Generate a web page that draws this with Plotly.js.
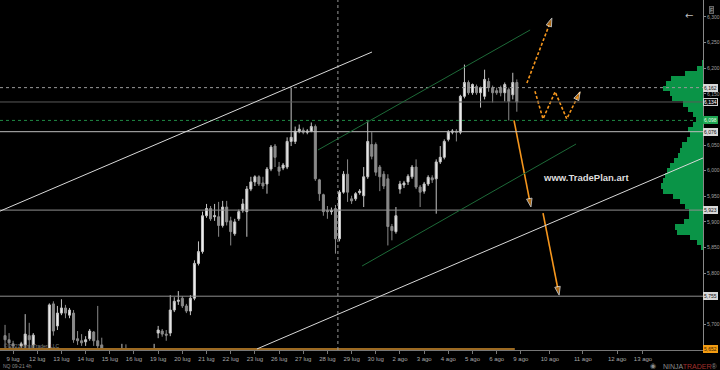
<!DOCTYPE html>
<html><head><meta charset="utf-8">
<script src="https://cdn.plot.ly/plotly-3.0.1.min.js"></script>
<style>html,body{margin:0;padding:0;background:#000;}#chart{width:720px;height:370px;}</style>
</head><body><div id="chart"></div>
<script>
// ---- 4h candles (price) ----
const openP = [
5678,5670,5662,5645,5658,5660,5678,5660,5643,5631,
5635,5639,5740,5697,5722,5732,5718,5722,5672,5668,
5666,5672,5685,5668,5660,5640,5630,5622,5636,5644,
5650,5642,5632,5625,5633,5638,5642,5645,5683,5687,
5681,5683,5728,5745,5751,5736,5726,5751,5819,5842,
5912,5926,5910,5910,5893,5929,5902,5877,5906,5922,
5920,5964,5978,5988,5976,5974,6003,6048,6007,6005,
6007,6057,6057,6077,6079,6075,6077,6086,5982,5953,
5922,5920,5926,5867,5958,5993,5945,5945,5957,5951,
5988,6051,6051,6007,5993,5984,5891,5881,5964,5972,
5978,5988,6007,5968,5960,5974,5986,5984,6017,6026,
6061,6075,6077,6075,6145,6172,6152,6164,6152,6145,
6174,6162,6156,6162,6152,6158,6148,6172];
const highP = [
5699,5683,5668,5650,5666,5720,5703,5683,5650,5646,
5654,5741,5745,5736,5749,5738,5732,5728,5687,5681,
5677,5691,5687,5736,5674,5646,5638,5640,5648,5662,
5661,5647,5640,5638,5644,5647,5649,5662,5697,5691,
5689,5757,5753,5765,5755,5740,5757,5825,5862,5920,
5935,5931,5935,5939,5941,5941,5910,5906,5924,5945,
5970,5988,5991,5991,5988,6007,6050,6052,6017,6015,
6065,6162,6086,6090,6084,6081,6094,6090,5984,5955,
5931,5928,5933,5962,5999,6022,5951,5958,5964,6007,
6096,6075,6055,6011,5999,5993,5896,5929,5980,5980,
5993,6011,6022,5972,5978,5991,5991,6022,6048,6061,
6079,6081,6081,6148,6207,6176,6170,6168,6164,6197,
6181,6166,6162,6166,6172,6162,6191,6178];
const lowP = [
5635,5639,5635,5625,5643,5654,5654,5650,5623,5619,
5623,5631,5678,5689,5718,5712,5712,5664,5660,5658,
5658,5668,5658,5650,5643,5620,5612,5615,5628,5638,
5636,5625,5618,5614,5624,5630,5634,5638,5673,5676,
5668,5677,5724,5738,5732,5722,5718,5747,5815,5838,
5908,5902,5902,5871,5889,5893,5854,5873,5902,5918,
5871,5960,5970,5970,5964,5955,5999,6007,5990,6001,
6003,6048,6052,6073,6071,6071,6075,5980,5941,5912,
5906,5914,5838,5862,5955,5939,5935,5941,5953,5929,
5984,6022,5990,5960,5964,5854,5864,5877,5955,5966,
5972,5984,5964,5929,5955,5970,5976,5916,6013,6022,
6057,6071,6057,6071,6141,6148,6148,6148,6123,6139,
6154,6133,6148,6145,6135,6098,6139,6115];
const closeP = [
5670,5664,5658,5635,5662,5681,5670,5679,5635,5639,
5643,5738,5687,5722,5732,5722,5728,5670,5668,5664,
5670,5687,5668,5658,5654,5630,5622,5636,5644,5650,
5642,5632,5625,5633,5638,5642,5645,5652,5689,5681,
5679,5728,5745,5747,5736,5726,5751,5819,5842,5912,
5926,5906,5912,5893,5929,5900,5881,5900,5920,5935,
5964,5978,5988,5974,5970,6003,6046,6026,5999,6011,
6057,6065,6077,6081,6075,6077,6086,5984,5955,5920,
5920,5922,5867,5958,5993,5958,5941,5955,5960,5988,
6057,6028,5997,5988,5970,5891,5883,5912,5974,5976,
5989,6007,5968,5958,5974,5987,5982,6017,6026,6057,
6075,6077,6075,6145,6172,6152,6168,6152,6162,6178,
6162,6152,6152,6152,6168,6135,6172,6134];
const candleIndex = openP.map((_, i) => i + 1);

// ---- date ticks ----
const sessionLabels = ['9 lug','12 lug','13 lug','14 lug','15 lug','16 lug','19 lug','20 lug','21 lug','22 lug','23 lug','26 lug','27 lug','28 lug','29 lug','30 lug','2 ago','3 ago','4 ago','5 ago','6 ago','9 ago'];
const futureLabels = ['10 ago','11 ago','12 ago','13 ago'];
const futureTickIndex = [136.2, 144.4, 152.9, 159.3];
const candlesPerSession = 6;

// ---- price axis ticks ----
const priceTicks = [5700, 5800, 5850, 5900, 5950, 6000, 6050, 6150, 6200, 6250, 6300];

// ---- horizontal levels ----
const levelValues = [6162, 6134, 6098, 6076, 5923, 5755];
const levelLabels = ['6,162', '6,134', '6,098', '6,076', '5,923', '5,755'];
const bottomLevel = 5652;
const bottomLabel = '5,652';

// ---- volume profile ----
const profilePrice = [6210,6200,6190,6180,6170,6160,6150,6140,6130,6120,6110,6100,6090,6080,6070,6060,6050,6040,6030,6020,6010,6000,5990,5980,5970,5960,5950,5940,5930,5920,5910,5900,5890,5880,5870,5860,5850];
const profileVolume = [1,6,18,32,37,40,33,31,20,15,10,7,10,15,13,16,21,23,25,29,33,36,38,40,42,40,30,23,18,14,14,19,28,26,13,6,2];

// ---- drawn lines (time index, price) ----
const upperTrendX = [-0.25, 92.06], upperTrendY = [5921, 6231.5];
const lowerTrendX = [63.5, 174.2], lowerTrendY = [5652, 6024.7];
const channelTopX = [78.66, 131.3], channelTopY = [6040.3, 6274.5];
const channelBotX = [89.6, 142.7], channelBotY = [5813.9, 6052];
const crossIndex = 83.6;
// ---- projection arrows ----
const down1X = [127.3, 131.5], down1Y = [6098, 5929];
const down2X = [134.5, 138.5], down2Y = [5917, 5757];
const upX = [130.5, 136.7], upY = [6171, 6298];
const zigX = [132.5, 134.5, 137.5, 140.4, 143.7], zigY = [6155, 6101, 6154, 6101, 6154];

const ORANGE = '#f5961d';
const FONT = 'Liberation Sans, Arial, sans-serif';

function arrowTrace(xs, ys, dash) {
  return {
    type: 'scatter', mode: 'lines+markers', x: xs, y: ys, hoverinfo: 'skip',
    line: {color: ORANGE, width: 1.6, dash: dash},
    marker: {symbol: 'arrow', angleref: 'previous', color: ORANGE,
      size: xs.map((_, i) => i === xs.length - 1 ? 9 : 0)},
    showlegend: false
  };
}

const traces = [
  {
    type: 'bar', orientation: 'h', y: profilePrice, x: profileVolume, width: 10,
    xaxis: 'x2', yaxis: 'y', marker: {color: '#0a9447', line: {width: 0}},
    hoverinfo: 'skip', showlegend: false
  },
  {
    type: 'candlestick', x: candleIndex, open: openP, high: highP, low: lowP, close: closeP,
    increasing: {line: {color: '#c4c4c4', width: 1}, fillcolor: '#eeeeee'},
    decreasing: {line: {color: '#8a8a8a', width: 1}, fillcolor: '#8a8a8a'},
    whiskerwidth: 0, hoverinfo: 'skip', showlegend: false
  },
  arrowTrace(down1X, down1Y, 'solid'),
  arrowTrace(down2X, down2Y, 'solid'),
  arrowTrace(upX, upY, '3px,2px'),
  arrowTrace(zigX, zigY, '3px,2px')
];

const levelStyles = [
  {color: '#9a9a9a', dash: 'dot'},
  {color: '#5a5a5a', dash: 'solid'},
  {color: '#1f8a45', dash: 'dot'},
  {color: '#bdbdbd', dash: 'solid'},
  {color: '#8f8f8f', dash: 'solid'},
  {color: '#8f8f8f', dash: 'solid'}
];
const boxStyles = [
  {bg: '#d8d8d8', fg: '#111', border: '#d8d8d8'},
  {bg: '#111111', fg: '#ffffff', border: '#cfcfcf'},
  {bg: '#1ea552', fg: '#e9ffe9', border: '#1ea552'},
  {bg: '#d8d8d8', fg: '#111', border: '#d8d8d8'},
  {bg: '#d8d8d8', fg: '#111', border: '#d8d8d8'},
  {bg: '#d8d8d8', fg: '#111', border: '#d8d8d8'}
];

const shapes = [];
levelValues.forEach((v, i) => shapes.push({type: 'line', xref: 'paper', x0: 0, x1: 1, yref: 'y', y0: v, y1: v,
  line: {color: levelStyles[i].color, width: 1, dash: levelStyles[i].dash}}));
shapes.push({type: 'line', xref: 'x', x0: -0.25, x1: 127.5, yref: 'y', y0: bottomLevel, y1: bottomLevel,
  line: {color: '#9c6a22', width: 2}});
shapes.push({type: 'line', xref: 'x', x0: crossIndex, x1: crossIndex, yref: 'paper', y0: 0, y1: 1,
  line: {color: '#9a9a9a', width: 1, dash: 'dot'}});
[[upperTrendX, upperTrendY, '#d9d9d9'], [lowerTrendX, lowerTrendY, '#d9d9d9'],
 [channelTopX, channelTopY, '#1d6a38'], [channelBotX, channelBotY, '#1d6a38']].forEach(([xs, ys, c]) =>
  shapes.push({type: 'line', xref: 'x', yref: 'y', x0: xs[0], x1: xs[1], y0: ys[0], y1: ys[1],
    line: {color: c, width: 1}}));

const annotations = [];
levelValues.forEach((v, i) => annotations.push({xref: 'paper', x: 1, xanchor: 'left', yref: 'y', y: v,
  text: levelLabels[i], showarrow: false, bgcolor: boxStyles[i].bg, bordercolor: boxStyles[i].border,
  borderwidth: 1, borderpad: 0, font: {family: FONT, size: 5, color: boxStyles[i].fg}}));
annotations.push({xref: 'paper', x: 1, xanchor: 'left', yref: 'paper', y: 0.003, yanchor: 'middle',
  text: bottomLabel, showarrow: false, bgcolor: '#f39c12', bordercolor: '#f39c12', borderwidth: 1, borderpad: 0,
  font: {family: FONT, size: 5, color: '#3a2200'}});
annotations.push({xref: 'x', x: 145.2, yref: 'y', y: 5986, text: '<b>www.TradePlan.art</b>', showarrow: false,
  font: {family: FONT, size: 9.5, color: '#dedede'}});
annotations.push({xref: 'paper', x: 0.003, xanchor: 'left', yref: 'paper', y: 0.012, yanchor: 'middle',
  text: '© 2021 NinjaTrader, LLC', showarrow: false, font: {family: FONT, size: 5, color: '#8a8a8a'}});
annotations.push({xref: 'paper', x: 0.001, xanchor: 'left', yref: 'paper', y: -0.047, yanchor: 'middle',
  text: 'NQ 09-21 4h', showarrow: false, font: {family: FONT, size: 5, color: '#8a8a8a'}});
annotations.push({xref: 'paper', x: 1.024, xanchor: 'right', yref: 'paper', y: -0.046, yanchor: 'middle',
  text: '<span style="color:#8c8c8c">NINJA</span><span style="color:#a3302c">TRADER</span><span style="color:#8c8c8c">®</span>',
  showarrow: false, font: {family: FONT, size: 7}});
annotations.push({xref: 'paper', x: 0.936, xanchor: 'right', yref: 'paper', y: -0.046, yanchor: 'middle',
  text: '◉', showarrow: false, font: {family: 'DejaVu Sans', size: 7, color: '#8c8c8c'}});
annotations.push({xref: 'paper', x: 0.989, yref: 'paper', y: 0.977, text: '←', showarrow: false,
  font: {family: 'DejaVu Sans', size: 10, color: '#bdbdbd'}});
annotations.push({xref: 'paper', x: 1.015, yref: 'paper', y: 0.982, text: 'F', showarrow: false,
  bgcolor: '#2a2a2a', bordercolor: '#666', borderwidth: 1, borderpad: 0,
  font: {family: FONT, size: 5, color: '#aaaaaa'}});

const tickvals = sessionLabels.map((_, i) => 3 + candlesPerSession * i).concat(futureTickIndex);
const ticktext = sessionLabels.concat(futureLabels);

const layout = {
  width: 720, height: 370,
  margin: {l: 0, r: 17, t: 0, b: 20, pad: 0},
  paper_bgcolor: '#000', plot_bgcolor: '#000',
  showlegend: false, dragmode: false, bargap: 0, boxgap: 0.28,
  font: {family: FONT, color: '#a0a0a0'},
  xaxis: {range: [-0.25, 174.2], rangeslider: {visible: false}, showgrid: false, zeroline: false,
    showline: true, linecolor: '#777', linewidth: 1, ticks: 'outside', ticklen: 3, tickcolor: '#777',
    tickvals: tickvals, ticktext: ticktext, tickfont: {family: FONT, size: 6, color: '#a8a8a8'},
    fixedrange: true},
  xaxis2: {domain: [0.9, 1], range: [70, 0], anchor: 'y', visible: false, fixedrange: true},
  yaxis: {range: [5650, 6333], side: 'right', showgrid: false, zeroline: false,
    showline: true, linecolor: '#888', linewidth: 1, ticks: 'outside', ticklen: 2, tickcolor: '#888',
    tickvals: priceTicks, tickformat: ',d', tickfont: {family: FONT, size: 5, color: '#a0a0a0'},
    fixedrange: true},
  shapes: shapes,
  annotations: annotations
};

Plotly.newPlot('chart', traces, layout, {displayModeBar: false, staticPlot: true});
</script>
</body></html>
